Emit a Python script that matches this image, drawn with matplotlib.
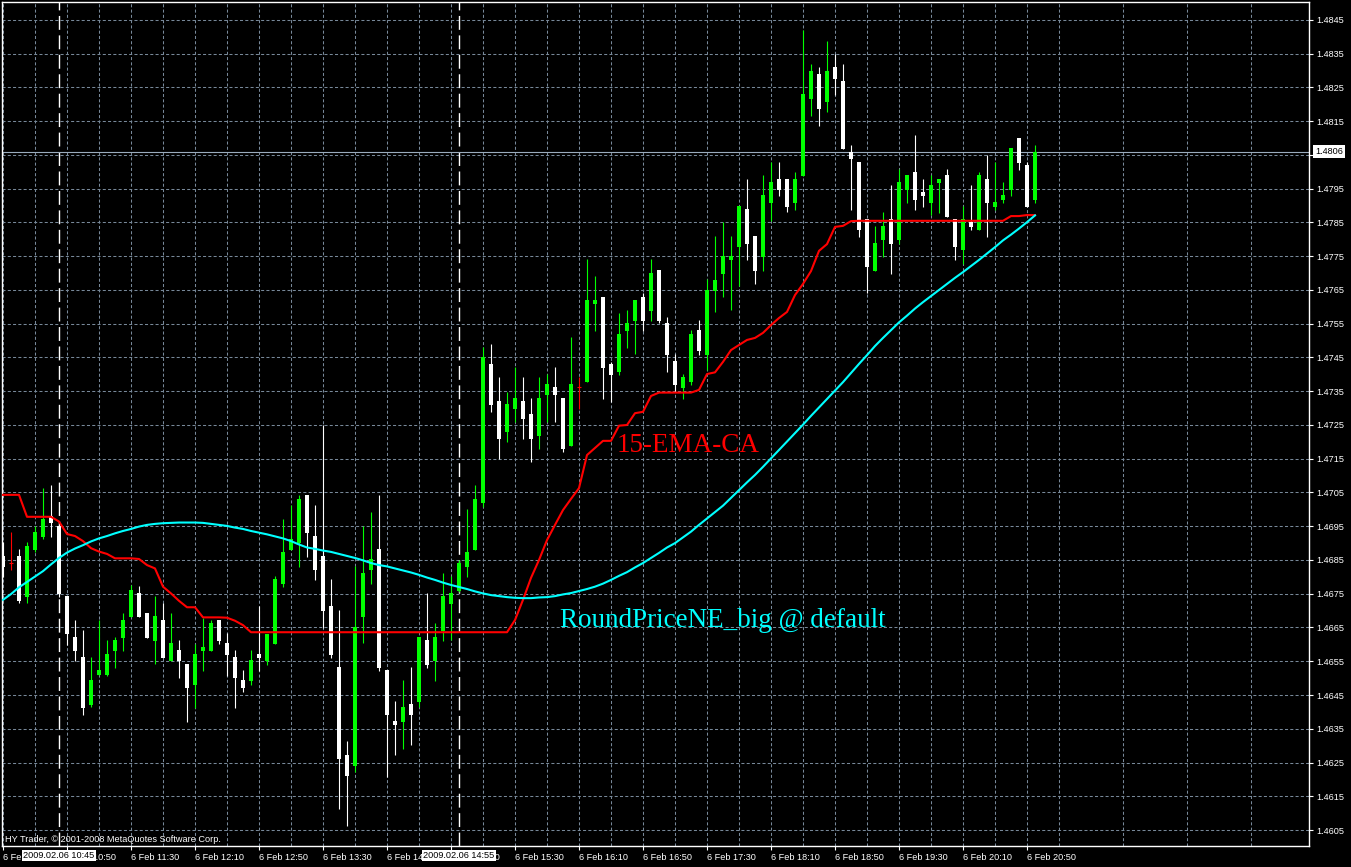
import matplotlib
matplotlib.use("Agg")
import matplotlib.pyplot as plt
import matplotlib.transforms as mtransforms
import numpy as np

# EURUSD-like M5 bars, 6 Feb 2009 10:10 .. 20:55 (one value per bar)
opens = [1.46862, 1.46840, 1.46862, 1.46741, 1.46880, 1.46919, 1.46981, 1.46951, 1.46743, 1.46623,
         1.46564, 1.46420, 1.46509, 1.46509, 1.46580, 1.46620, 1.46682, 1.46751, 1.46692, 1.46610,
         1.46672, 1.46552, 1.46583, 1.46542, 1.46480, 1.46581, 1.46581, 1.46672, 1.46604, 1.46564,
         1.46494, 1.46492, 1.46571, 1.46552, 1.46601, 1.46779, 1.46880, 1.46901, 1.47043, 1.46921,
         1.46862, 1.46714, 1.46534, 1.46272, 1.46241, 1.46682, 1.46820, 1.46883, 1.46524, 1.46373,
         1.46371, 1.46423, 1.46430, 1.46613, 1.46552, 1.46640, 1.46720, 1.46759, 1.46830, 1.46880,
         1.47020, 1.47431, 1.47321, 1.47228, 1.47297, 1.47321, 1.47283, 1.47218, 1.47339, 1.47363,
         1.47330, 1.47189, 1.47363, 1.47378, 1.47609, 1.47629, 1.47431, 1.47408, 1.47529, 1.47559,
         1.47629, 1.47588, 1.47709, 1.47553, 1.47440, 1.47361, 1.47378, 1.47531, 1.47457, 1.47648,
         1.47697, 1.47739, 1.47778, 1.47890, 1.47810, 1.47749, 1.47909, 1.47979, 1.47979, 1.47909,
         1.47989, 1.48217, 1.48290, 1.48208, 1.48311, 1.48269, 1.48059, 1.48029, 1.47860, 1.47707,
         1.47798, 1.47860, 1.47798, 1.47946, 1.48000, 1.47940, 1.47909, 1.47967, 1.47991, 1.47860,
         1.47769, 1.47851, 1.47828, 1.47979, 1.47896, 1.47917, 1.47946, 1.48100, 1.48020, 1.47917]
highs = [1.46904, 1.46934, 1.46883, 1.46903, 1.46951, 1.47062, 1.47072, 1.46963, 1.46743, 1.46672,
         1.46643, 1.46564, 1.46672, 1.46613, 1.46623, 1.46693, 1.46776, 1.46773, 1.46692, 1.46743,
         1.46724, 1.46692, 1.46613, 1.46542, 1.46601, 1.46677, 1.46672, 1.46672, 1.46635, 1.46583,
         1.46524, 1.46583, 1.46714, 1.46631, 1.46803, 1.46971, 1.47013, 1.47043, 1.47043, 1.47013,
         1.47250, 1.46793, 1.46702, 1.46314, 1.46832, 1.46951, 1.46991, 1.47043, 1.46524, 1.46432,
         1.46494, 1.46534, 1.46621, 1.46751, 1.46664, 1.46811, 1.46803, 1.46850, 1.47001, 1.47072,
         1.47482, 1.47490, 1.47393, 1.47349, 1.47422, 1.47392, 1.47330, 1.47392, 1.47400, 1.47422,
         1.47330, 1.47511, 1.47392, 1.47742, 1.47691, 1.47629, 1.47437, 1.47581, 1.47591, 1.47620,
         1.47640, 1.47742, 1.47709, 1.47571, 1.47459, 1.47400, 1.47531, 1.47561, 1.47683, 1.47810,
         1.47852, 1.47810, 1.47899, 1.47979, 1.47810, 1.47991, 1.48028, 1.48028, 1.47979, 1.47999,
         1.48420, 1.48320, 1.48310, 1.48387, 1.48349, 1.48320, 1.48080, 1.48029, 1.47860, 1.47840,
         1.47880, 1.47960, 1.48009, 1.47991, 1.48109, 1.47979, 1.47991, 1.47979, 1.48009, 1.47860,
         1.47899, 1.47961, 1.48000, 1.48050, 1.48029, 1.47970, 1.48071, 1.48100, 1.48029, 1.48080]
lows = [1.46801, 1.46820, 1.46722, 1.46722, 1.46875, 1.46911, 1.46919, 1.46740, 1.46598, 1.46552,
        1.46391, 1.46415, 1.46509, 1.46505, 1.46531, 1.46580, 1.46682, 1.46682, 1.46620, 1.46541,
        1.46561, 1.46552, 1.46499, 1.46371, 1.46412, 1.46522, 1.46581, 1.46601, 1.46507, 1.46412,
        1.46460, 1.46480, 1.46522, 1.46539, 1.46601, 1.46771, 1.46880, 1.46830, 1.46860, 1.46791,
        1.46648, 1.46559, 1.46112, 1.46063, 1.46221, 1.46603, 1.46779, 1.46522, 1.46206, 1.46272,
        1.46290, 1.46302, 1.46415, 1.46529, 1.46492, 1.46610, 1.46613, 1.46755, 1.46801, 1.46880,
        1.47006, 1.47289, 1.47149, 1.47201, 1.47258, 1.47209, 1.47139, 1.47179, 1.47258, 1.47258,
        1.47171, 1.47189, 1.47297, 1.47378, 1.47529, 1.47327, 1.47319, 1.47398, 1.47479, 1.47459,
        1.47529, 1.47558, 1.47551, 1.47408, 1.47349, 1.47327, 1.47369, 1.47457, 1.47413, 1.47586,
        1.47628, 1.47591, 1.47663, 1.47739, 1.47668, 1.47707, 1.47855, 1.47929, 1.47880, 1.47887,
        1.47989, 1.48166, 1.48137, 1.48178, 1.48228, 1.48068, 1.47887, 1.47808, 1.47640, 1.47707,
        1.47749, 1.47697, 1.47786, 1.47909, 1.47887, 1.47896, 1.47872, 1.47878, 1.47866, 1.47739,
        1.47727, 1.47828, 1.47828, 1.47807, 1.47887, 1.47908, 1.47929, 1.48006, 1.47896, 1.47908]
closes = [1.46830, 1.46840, 1.46729, 1.46891, 1.46933, 1.46971, 1.46961, 1.46749, 1.46631, 1.46581,
          1.46412, 1.46494, 1.46524, 1.46571, 1.46613, 1.46672, 1.46761, 1.46682, 1.46620, 1.46684,
          1.46561, 1.46603, 1.46552, 1.46472, 1.46571, 1.46593, 1.46664, 1.46610, 1.46569, 1.46501,
          1.46472, 1.46554, 1.46561, 1.46631, 1.46793, 1.46873, 1.46912, 1.47031, 1.46931, 1.46820,
          1.46700, 1.46569, 1.46260, 1.46211, 1.46651, 1.46811, 1.46852, 1.46529, 1.46391, 1.46361,
          1.46414, 1.46391, 1.46621, 1.46539, 1.46621, 1.46743, 1.46751, 1.46840, 1.46873, 1.47031,
          1.47452, 1.47309, 1.47209, 1.47312, 1.47330, 1.47268, 1.47209, 1.47330, 1.47371, 1.47339,
          1.47179, 1.47371, 1.47363, 1.47620, 1.47620, 1.47420, 1.47399, 1.47520, 1.47551, 1.47620,
          1.47559, 1.47701, 1.47559, 1.47457, 1.47369, 1.47393, 1.47520, 1.47469, 1.47650, 1.47680,
          1.47751, 1.47751, 1.47899, 1.47786, 1.47707, 1.47931, 1.47970, 1.47946, 1.47897, 1.47979,
          1.48231, 1.48299, 1.48186, 1.48299, 1.48275, 1.48068, 1.48038, 1.47828, 1.47719, 1.47789,
          1.47840, 1.47786, 1.47970, 1.47991, 1.47917, 1.47929, 1.47961, 1.47979, 1.47866, 1.47777,
          1.47860, 1.47837, 1.47991, 1.47908, 1.47911, 1.47931, 1.48071, 1.48026, 1.47896, 1.48060]

# indicator "15-EMA-CA" (red)
ema_ca = [1.47043, 1.47043, 1.47043, 1.46978, 1.46978, 1.46978, 1.46978, 1.46964, 1.46927, 1.46921,
          1.46906, 1.46885, 1.46875, 1.46868, 1.46855, 1.46855, 1.46855, 1.46853, 1.46835, 1.46825,
          1.46771, 1.46751, 1.46729, 1.46710, 1.46710, 1.46680, 1.46680, 1.46680, 1.46679, 1.46670,
          1.46657, 1.46636, 1.46636, 1.46636, 1.46636, 1.46636, 1.46636, 1.46636, 1.46636, 1.46636,
          1.46636, 1.46636, 1.46636, 1.46636, 1.46636, 1.46636, 1.46636, 1.46636, 1.46636, 1.46636,
          1.46636, 1.46636, 1.46636, 1.46636, 1.46636, 1.46636, 1.46636, 1.46636, 1.46636, 1.46636,
          1.46636, 1.46636, 1.46636, 1.46636, 1.46672, 1.46732, 1.46797, 1.46850, 1.46909, 1.46954,
          1.46998, 1.47031, 1.47063, 1.47161, 1.47182, 1.47203, 1.47203, 1.47248, 1.47250, 1.47285,
          1.47289, 1.47336, 1.47346, 1.47346, 1.47346, 1.47346, 1.47346, 1.47354, 1.47401, 1.47406,
          1.47437, 1.47472, 1.47487, 1.47502, 1.47508, 1.47523, 1.47546, 1.47567, 1.47585, 1.47635,
          1.47668, 1.47706, 1.47766, 1.47786, 1.47837, 1.47840, 1.47854, 1.47855, 1.47855, 1.47855,
          1.47855, 1.47855, 1.47855, 1.47855, 1.47855, 1.47855, 1.47855, 1.47855, 1.47855, 1.47855,
          1.47855, 1.47855, 1.47855, 1.47855, 1.47855, 1.47855, 1.47869, 1.47869, 1.47872, 1.47872]

# indicator "RoundPriceNE_big @ default" (cyan)
round_price = [1.46732, 1.46749, 1.46769, 1.46785, 1.46801, 1.46817, 1.46837, 1.46856, 1.46872, 1.46884,
               1.46894, 1.46905, 1.46914, 1.46921, 1.46929, 1.46936, 1.46942, 1.46949, 1.46954, 1.46957,
               1.46959, 1.46960, 1.46961, 1.46961, 1.46961, 1.46960, 1.46957, 1.46954, 1.46951, 1.46946,
               1.46942, 1.46936, 1.46931, 1.46926, 1.46920, 1.46914, 1.46906, 1.46896, 1.46887, 1.46883,
               1.46878, 1.46874, 1.46868, 1.46862, 1.46856, 1.46849, 1.46841, 1.46835, 1.46831, 1.46825,
               1.46819, 1.46813, 1.46806, 1.46798, 1.46791, 1.46783, 1.46776, 1.46770, 1.46764, 1.46757,
               1.46751, 1.46746, 1.46743, 1.46740, 1.46738, 1.46737, 1.46737, 1.46739, 1.46740, 1.46743,
               1.46748, 1.46752, 1.46758, 1.46764, 1.46771, 1.46780, 1.46791, 1.46803, 1.46814, 1.46828,
               1.46841, 1.46856, 1.46871, 1.46887, 1.46900, 1.46917, 1.46934, 1.46954, 1.46973, 1.46992,
               1.47011, 1.47034, 1.47057, 1.47080, 1.47102, 1.47126, 1.47151, 1.47176, 1.47201, 1.47226,
               1.47251, 1.47277, 1.47302, 1.47327, 1.47352, 1.47377, 1.47404, 1.47431, 1.47457, 1.47484,
               1.47508, 1.47531, 1.47554, 1.47574, 1.47595, 1.47614, 1.47632, 1.47650, 1.47668, 1.47686,
               1.47703, 1.47721, 1.47739, 1.47758, 1.47777, 1.47797, 1.47814, 1.47832, 1.47851, 1.47871]

tick_bars = [0, 8, 16, 24, 32, 40, 48, 56, 64, 72, 80, 88, 96, 104, 112, 120, 128]
tick_labels = ["6 Feb 10:10", "6 Feb 10:50", "6 Feb 11:30", "6 Feb 12:10", "6 Feb 12:50",
               "6 Feb 13:30", "6 Feb 14:10", "6 Feb 14:50", "6 Feb 15:30", "6 Feb 16:10",
               "6 Feb 16:50", "6 Feb 17:30", "6 Feb 18:10", "6 Feb 18:50", "6 Feb 19:30",
               "6 Feb 20:10", "6 Feb 20:50"]
price_ticks = [1.4605, 1.4615, 1.4625, 1.4635, 1.4645, 1.4655, 1.4665, 1.4675, 1.4685, 1.4695,
               1.4705, 1.4715, 1.4725, 1.4735, 1.4745, 1.4755, 1.4765, 1.4775, 1.4785, 1.4795,
               1.4805, 1.4815, 1.4825, 1.4835, 1.4845]
marker_bars = [7, 57]
marker_labels = ["2009.02.06 10:45", "2009.02.06 14:55"]
last_price = 1.4806

plt.rcParams['font.family'] = ['Liberation Sans', 'DejaVu Sans']
plt.rcParams['lines.scale_dashes'] = False

W, H = 1351, 867
fig = plt.figure(figsize=(W / 100, H / 100), dpi=100, facecolor='black')
ax = fig.add_axes([2 / W, (H - 846) / H, 1307 / W, 844 / H])
ax.set_facecolor('black')

o = np.array(opens)
hi = np.array(highs)
lo = np.array(lows)
c = np.array(closes)
x = np.arange(len(o))

cols = np.where(c > o, '#00ff00', np.where(c < o, 'white', 'red'))

# wicks
ax.vlines(x, lo, hi, colors=cols, linewidth=0.8, zorder=3)
# bodies
bottom = np.minimum(o, c)
height = np.maximum(np.abs(c - o), 0.00003)
body = c != o
ax.bar(x[body], height[body], bottom=bottom[body], width=0.62,
       color=cols[body], linewidth=0, zorder=4)
# doji
doji = ~body
ax.hlines(o[doji], x[doji] - 0.3, x[doji] + 0.3, colors='red', linewidth=0.8, zorder=4)

# indicator lines
ax.plot(x, ema_ca, color='#ff0000', linewidth=1.5, zorder=5)
ax.plot(x, round_price, color='#00ffff', linewidth=1.5, zorder=5)

# vertical marker lines
for b in marker_bars:
    ax.axvline(b, color='white', linewidth=1.0, linestyle=(0, (10, 4)), zorder=2)

# current price line
ax.axhline(last_price, color='#9aabbd', linewidth=0.8, zorder=2)

ax.set_xlim(-0.125, 163.25)
ax.set_ylim(1.460026, 1.485033)

# grid
ax.set_yticks(price_ticks)
ax.set_yticklabels([f"{p:.4f}" for p in price_ticks])
ax.set_xticks(tick_bars)
ax.set_xticklabels(tick_labels, ha='left')
ax.set_xticks(np.arange(4, 164, 8), minor=True)
ax.grid(True, which='both', color='#778899', linestyle=(0, (2.2, 1.6)), linewidth=0.75, zorder=1)
ax.set_axisbelow(True)

ax.yaxis.tick_right()
ax.tick_params(axis='y', colors='white', length=3, width=0.8, labelsize=6.6, pad=2)
ax.tick_params(axis='x', which='major', colors='white', length=3, width=0.8, labelsize=6.6, pad=2)
ax.tick_params(axis='x', which='minor', length=0)

for s in ax.spines.values():
    s.set_color('white')
    s.set_linewidth(1.0)

# labels on the time axis for the marker lines
trans_x = mtransforms.blended_transform_factory(ax.transData, ax.transAxes)
for b, lab in zip(marker_bars, marker_labels):
    ax.text(b, -0.0113, lab, transform=trans_x, ha='center', va='center', color='black',
            fontsize=6.6, zorder=10, clip_on=False,
            bbox=dict(boxstyle='square,pad=0.12', fc='white', ec='none'))

# current price tag on the price axis
trans_y = mtransforms.blended_transform_factory(ax.transAxes, ax.transData)
ax.text(1.0 + 6 / 1307, last_price, f"{last_price:.4f}", transform=trans_y, ha='left',
        va='center', color='black', fontsize=6.6, clip_on=False,
        bbox=dict(boxstyle='square,pad=0.2', fc='white', ec='none'))

# indicator names
ax.text(76.75, 1.47170, "15-EMA-CA", color='red', fontsize=19.5,
        family='Liberation Serif', va='baseline', ha='left', zorder=6)
ax.text(69.6, 1.46651, "RoundPriceNE_big @ default", color='#00ffff', fontsize=19.5,
        family='Liberation Serif', va='baseline', ha='left', zorder=6)

ax.text(3 / 1307, 2 / 844, "HY Trader, \u00a9 2001-2008 MetaQuotes Software Corp.",
        transform=ax.transAxes, color='white', fontsize=6.6, va='bottom', ha='left', zorder=6)

fig.savefig("out.png", dpi=100, facecolor='black')
